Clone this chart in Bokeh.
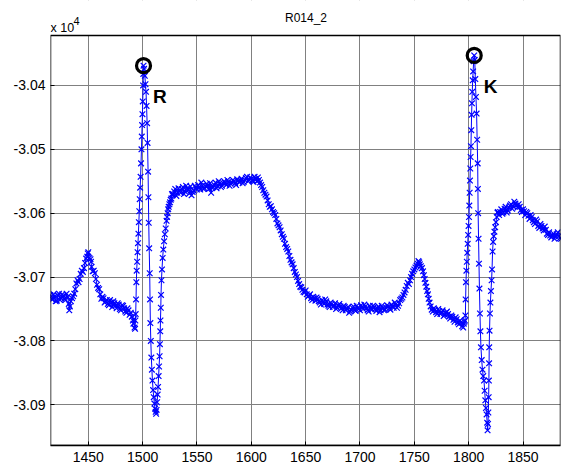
from bokeh.plotting import figure
from bokeh.models import FixedTicker, Range1d, ColumnDataSource, Label, BoxAnnotation
from bokeh.embed import file_html
from bokeh.resources import INLINE
from bokeh.core.properties import value

title_text = "R014_2"
exponent_base = "x 10"
exponent_power = "4"
x_ticks = [1450, 1500, 1550, 1600, 1650, 1700, 1750, 1800, 1850]
y_ticks = [-30900, -30800, -30700, -30600, -30500, -30400]
y_tick_labels = ["-3.09", "-3.08", "-3.07", "-3.06", "-3.05", "-3.04"]

baseline = [(1415, -30728), (1416, -30734), (1417, -30735), (1418, -30727), (1419, -30730),
            (1420, -30738), (1421, -30737), (1422, -30729), (1423, -30726), (1424, -30736),
            (1425, -30733), (1426, -30727), (1427, -30729), (1428, -30734), (1429, -30736),
            (1430, -30726), (1431, -30731), (1432, -30742), (1432.5, -30752), (1433, -30746),
            (1434, -30738), (1435, -30733), (1436, -30730), (1437, -30726)]
p_wave = [(1438, -30719), (1439, -30710), (1440, -30705), (1441, -30708), (1442, -30703),
          (1443, -30695), (1444, -30690), (1445, -30692), (1446, -30686), (1447, -30678),
          (1448, -30671), (1449, -30668), (1449.5, -30663), (1450, -30661), (1451, -30670),
          (1452, -30672), (1452.5, -30676), (1453, -30684), (1454, -30691), (1455, -30690),
          (1456, -30694), (1457, -30703), (1458, -30712), (1459, -30717), (1460, -30719),
          (1461, -30727), (1462, -30734), (1463, -30731), (1464, -30733), (1465, -30740)]
pr_segment = [(1466, -30738), (1467, -30736), (1468, -30742), (1469, -30744), (1470, -30736),
              (1471, -30740), (1472, -30747), (1473, -30738), (1474, -30741), (1475, -30745),
              (1476, -30749), (1477, -30741), (1478, -30743), (1479, -30750), (1480, -30752),
              (1481, -30744), (1482, -30745), (1483, -30749), (1484, -30754), (1485, -30756),
              (1486, -30749), (1487, -30752), (1488, -30759), (1489, -30756), (1490, -30762),
              (1491, -30768), (1491.5, -30773), (1492, -30766), (1492.5, -30779), (1493, -30781),
              (1493.3, -30768)]
r_complex = [(1493.6, -30758), (1493.9, -30735), (1494.2, -30708), (1494.5, -30690), (1494.9, -30676),
             (1495.3, -30661), (1495.7, -30647), (1496.1, -30632), (1496.5, -30614), (1496.9, -30597),
             (1497.3, -30578), (1497.7, -30560), (1498.1, -30543), (1498.5, -30522), (1498.9, -30500),
             (1499.2, -30480), (1499.5, -30462), (1499.8, -30445), (1500.1, -30425), (1500.4, -30400),
             (1500.6, -30382), (1500.8, -30369),
             (1501.3, -30374), (1502.0, -30385), (1502.6, -30398), (1503.1, -30410), (1503.6, -30432),
             (1504.1, -30459), (1504.5, -30490), (1505.0, -30535), (1505.3, -30575), (1505.6, -30615),
             (1506.0, -30655), (1506.5, -30694), (1506.8, -30735), (1507.1, -30772), (1507.5, -30800),
             (1508.0, -30826), (1508.5, -30845), (1509.0, -30862), (1509.6, -30877), (1510.2, -30888),
             (1510.8, -30898), (1511.4, -30906), (1512.0, -30911), (1512.4, -30914),
             (1512.8, -30908), (1513.3, -30896), (1513.8, -30884), (1514.2, -30872), (1514.7, -30855),
             (1515.1, -30840), (1515.6, -30824), (1515.9, -30805), (1516.2, -30785), (1516.4, -30768),
             (1516.7, -30748), (1516.9, -30728), (1517.3, -30705), (1517.8, -30688), (1518.4, -30670),
             (1519.0, -30657), (1519.7, -30644), (1520.4, -30633), (1521.2, -30624), (1522.0, -30612),
             (1522.5, -30606), (1523.0, -30600), (1523.5, -30594), (1524.0, -30590), (1524.6, -30586),
             (1525.2, -30583), (1525.8, -30579), (1526.4, -30577), (1527.0, -30570), (1527.6, -30572)]
st_plateau = [(1528, -30570), (1529, -30566), (1530, -30562), (1531, -30573), (1532, -30568),
              (1533, -30561), (1534, -30566), (1535, -30568), (1536, -30562), (1537, -30559),
              (1538, -30570), (1539, -30566), (1540, -30557), (1541, -30561), (1542, -30563),
              (1543, -30569), (1544, -30558), (1545, -30572), (1546, -30567), (1547, -30565),
              (1548, -30557), (1549, -30560), (1550, -30563), (1551, -30556), (1552, -30559),
              (1553, -30563), (1554, -30552), (1555, -30557), (1556, -30562), (1557, -30561),
              (1558, -30558), (1559, -30554), (1560, -30557), (1561, -30562), (1562, -30553),
              (1563, -30568), (1564, -30560), (1565, -30559), (1566, -30556), (1567, -30552),
              (1568, -30561), (1569, -30558), (1570, -30550), (1571, -30553), (1572, -30559),
              (1573, -30557), (1574, -30553), (1575, -30550), (1576, -30553), (1577, -30556),
              (1578, -30548), (1579, -30551), (1580, -30557), (1581, -30554), (1582, -30552),
              (1583, -30548), (1584, -30550), (1585, -30553), (1586, -30556), (1587, -30547),
              (1588, -30549), (1589, -30552), (1590, -30549), (1591, -30546), (1592, -30553),
              (1593, -30551), (1594, -30548), (1595, -30545), (1596, -30543), (1597, -30550),
              (1598, -30548), (1599, -30544), (1600, -30546), (1601, -30549), (1602, -30551),
              (1603, -30543), (1604, -30546), (1605, -30550), (1606, -30544), (1607, -30548),
              (1608, -30552)]
t_fall = [(1609, -30556), (1610, -30559), (1611, -30564), (1612, -30568), (1613, -30571),
          (1614, -30574), (1615, -30580), (1616, -30586), (1617, -30590), (1618, -30589),
          (1619, -30594), (1620, -30598), (1621, -30600), (1622, -30603), (1623, -30609),
          (1624, -30616), (1625, -30619), (1626, -30622), (1627, -30627), (1628, -30633),
          (1629, -30637), (1630, -30640), (1631, -30648), (1632, -30653), (1633, -30656),
          (1634, -30660), (1635, -30667), (1636, -30673), (1637, -30677), (1638, -30680),
          (1639, -30686), (1640, -30692), (1641, -30696), (1642, -30700), (1643, -30706),
          (1644, -30711), (1645, -30715), (1646, -30716), (1647, -30720), (1648, -30723),
          (1649, -30724), (1650, -30721), (1651, -30727), (1652, -30731), (1653, -30729),
          (1654, -30727), (1655, -30733), (1656, -30736), (1657, -30731), (1658, -30733),
          (1659, -30737), (1660, -30732), (1661, -30734), (1662, -30738), (1663, -30740),
          (1664, -30743), (1665, -30736), (1666, -30739), (1667, -30742), (1668, -30735),
          (1669, -30738), (1670, -30743), (1671, -30745), (1672, -30747), (1673, -30740),
          (1674, -30742), (1675, -30747), (1676, -30745), (1677, -30741), (1678, -30750),
          (1679, -30748), (1680, -30744), (1681, -30742), (1682, -30746), (1683, -30749),
          (1684, -30752), (1685, -30745), (1686, -30747), (1687, -30752), (1688, -30749),
          (1689, -30747), (1690, -30756), (1691, -30754), (1692, -30751), (1693, -30748),
          (1694, -30746), (1695, -30751), (1696, -30753), (1697, -30745), (1698, -30748),
          (1699, -30750), (1700, -30752), (1701, -30744), (1702, -30747), (1703, -30750),
          (1704, -30743), (1705, -30746), (1706, -30749), (1707, -30752), (1708, -30754),
          (1709, -30745), (1710, -30748), (1711, -30751), (1712, -30745), (1713, -30747),
          (1714, -30750), (1715, -30753), (1716, -30749), (1717, -30746), (1718, -30755),
          (1719, -30752), (1720, -30745), (1721, -30748), (1722, -30752), (1723, -30751),
          (1724, -30748), (1725, -30744), (1726, -30746), (1727, -30749), (1728, -30751),
          (1729, -30743), (1730, -30746), (1731, -30748), (1732, -30740), (1733, -30742),
          (1734, -30748), (1735, -30745), (1736, -30741)]
p_wave_2 = [(1737, -30736), (1738, -30734), (1739, -30732), (1740, -30728), (1741, -30724),
            (1742, -30720), (1743, -30714), (1744, -30709), (1745, -30711), (1746, -30705),
            (1747, -30700), (1748, -30695), (1749, -30691), (1750, -30688), (1751, -30685),
            (1752, -30682), (1753, -30679), (1753.8, -30675), (1754.5, -30677), (1755, -30680),
            (1756, -30683), (1757, -30686), (1758, -30691), (1758.8, -30697), (1759.5, -30703),
            (1760.2, -30709), (1761, -30715), (1761.8, -30722), (1762.5, -30727), (1763.2, -30734),
            (1764, -30740), (1765, -30746), (1766, -30751), (1767, -30754), (1768, -30749),
            (1769, -30751), (1770, -30755), (1771, -30758), (1772, -30750), (1773, -30753),
            (1774, -30758), (1775, -30756), (1776, -30752), (1777, -30761), (1778, -30759),
            (1779, -30756), (1780, -30754), (1781, -30758), (1782, -30762), (1783, -30765),
            (1784, -30760), (1785, -30762), (1786, -30767), (1787, -30770), (1788, -30763),
            (1789, -30766), (1790, -30771), (1791, -30774), (1792, -30768), (1793, -30771),
            (1794, -30777), (1795, -30779), (1795.5, -30773), (1796, -30770), (1796.6, -30768)]
k_complex = [(1797.0, -30760), (1797.2, -30735), (1797.5, -30708), (1797.9, -30690), (1798.3, -30676),
             (1798.7, -30662), (1799.1, -30648), (1799.5, -30634), (1799.9, -30620), (1800.3, -30606),
             (1800.6, -30588), (1800.9, -30568), (1801.2, -30549), (1801.5, -30530), (1801.8, -30512),
             (1802.1, -30495), (1802.4, -30470), (1802.7, -30446), (1803.0, -30428), (1803.3, -30410),
             (1803.7, -30392), (1804.1, -30378), (1804.6, -30362), (1805.1, -30353),
             (1805.6, -30360), (1806.1, -30390), (1806.7, -30418), (1807.3, -30444), (1807.8, -30485),
             (1808.3, -30522), (1808.5, -30562), (1808.7, -30600), (1809.1, -30640), (1809.5, -30679),
             (1809.9, -30718), (1810.4, -30757), (1810.8, -30785), (1811.3, -30810), (1812.0, -30830),
             (1812.7, -30845), (1813.4, -30855), (1814.1, -30862), (1814.7, -30878), (1815.3, -30893),
             (1815.9, -30905), (1816.5, -30915), (1817.0, -30928), (1817.4, -30940),
             (1817.8, -30930), (1818.1, -30912), (1818.4, -30888), (1818.6, -30862), (1818.8, -30835),
             (1818.9, -30810), (1819.2, -30784), (1819.6, -30757), (1820.0, -30740), (1820.5, -30722),
             (1821.1, -30705), (1821.5, -30688), (1822.0, -30660), (1822.5, -30645), (1823.1, -30636),
             (1823.7, -30629), (1824.4, -30622), (1825.1, -30614), (1825.8, -30606), (1826.5, -30599)]
k_plateau = [(1827, -30598), (1828, -30603), (1829, -30598), (1830, -30594), (1831, -30601),
             (1832, -30599), (1833, -30593), (1834, -30590), (1835, -30599), (1836, -30596),
             (1837, -30591), (1838, -30588), (1839, -30586), (1840, -30593), (1841, -30589),
             (1842, -30582), (1843, -30585), (1844, -30588), (1845, -30591), (1846, -30586),
             (1847, -30590), (1848, -30595), (1849, -30598), (1850, -30594), (1851, -30597),
             (1852, -30603), (1853, -30598), (1854, -30600), (1855, -30604), (1856, -30609),
             (1857, -30603), (1858, -30606), (1859, -30611), (1860, -30614), (1861, -30617),
             (1862, -30610), (1863, -30613), (1864, -30620), (1865, -30623), (1866, -30617),
             (1867, -30620), (1868, -30624), (1869, -30627), (1870, -30621), (1871, -30626),
             (1872, -30632), (1873, -30634), (1874, -30630), (1875, -30635), (1876, -30638),
             (1877, -30635), (1878, -30632), (1879, -30640), (1880, -30636), (1881, -30633),
             (1882, -30630), (1883, -30636), (1884, -30639), (1885, -30640), (1886, -30635)]

peak_x = [1500.8, 1805.1]
peak_y = [-30369, -30353]
peak_labels = ["R", "K"]

segments = [baseline, p_wave, pr_segment, r_complex, st_plateau, t_fall, p_wave_2, k_complex, k_plateau]
points = sorted(pt for seg in segments for pt in seg)
sig_x = [pt[0] for pt in points]
sig_y = [pt[1] for pt in points]

FONT = "Liberation Sans"

# axes box (data limits) and the strip above it used for the heading texts
X_MIN, X_MAX = 1415.2, 1884.5
Y_MIN, Y_MAX = -30963.7, -30321.8
W, H = 561, 468
LEFT, RIGHT, BOTTOM = 50, 1, 23
BOX_TOP = 35                      # pixel row of the top edge of the axes box
frame_h = H - BOTTOM
px_per_unit = (frame_h - BOX_TOP) / (Y_MAX - Y_MIN)
Y_TOP = Y_MIN + frame_h / px_per_unit
x_per_px = (X_MAX - X_MIN) / (W - LEFT - RIGHT)


def data_y(row):
    return Y_TOP - row / px_per_unit


def data_x(col):
    return X_MIN + (col - LEFT) * x_per_px


p = figure(width=W, height=H, output_backend="svg", toolbar_location=None, title=None,
           x_range=Range1d(X_MIN, X_MAX), y_range=Range1d(Y_MIN, Y_TOP),
           min_border_left=LEFT, min_border_right=RIGHT, min_border_top=0, min_border_bottom=BOTTOM)
p.background_fill_color = "white"
p.border_fill_color = "white"
p.outline_line_color = None

p.xgrid.ticker = FixedTicker(ticks=x_ticks)
p.ygrid.ticker = FixedTicker(ticks=y_ticks)
for g in (p.xgrid, p.ygrid):
    g.grid_line_color = "#808080"
    g.grid_line_width = 1

src = ColumnDataSource(dict(x=sig_x, y=sig_y))
p.line("x", "y", source=src, line_color="#0000ff", line_width=1)
p.scatter("x", "y", source=src, marker="x", size=8, line_color="#0000ff", line_width=1.2)

psrc = ColumnDataSource(dict(x=peak_x, y=peak_y, t=peak_labels))
p.scatter("x", "y", source=psrc, marker="circle", size=14, fill_color=None,
          line_color="black", line_width=3.2)
p.text("x", "y", text="t", source=psrc, x_offset=9.5, y_offset=31,
       text_font=value(FONT), text_font_size="19px", text_font_style="bold",
       text_color="black", text_baseline="alphabetic", text_align="left")

# white strip above the axes box, then the box itself
p.add_layout(BoxAnnotation(bottom=Y_MAX, fill_color="white", fill_alpha=1.0, line_color=None))
p.add_layout(BoxAnnotation(left=X_MIN, right=X_MAX, bottom=Y_MIN, top=Y_MAX,
                           fill_alpha=0.0, fill_color=None, line_color="black",
                           line_width=1.5, line_alpha=1.0))

for ax in (p.xaxis, p.yaxis):
    ax.major_tick_in = 4
    ax.major_tick_out = 0
    ax.minor_tick_line_color = None
    ax.major_tick_line_color = "black"
    ax.major_label_text_font = FONT
    ax.major_label_text_font_size = "14px"
    ax.major_label_text_color = "black"
p.xaxis.axis_line_color = "black"
p.xaxis.axis_line_width = 1.5
p.yaxis.axis_line_color = None

p.xaxis.ticker = FixedTicker(ticks=x_ticks)
p.yaxis.ticker = FixedTicker(ticks=y_ticks)
p.yaxis.major_label_overrides = {t: l for t, l in zip(y_ticks, y_tick_labels)}
p.xaxis.major_label_standoff = 6
p.yaxis.major_label_standoff = 5

p.add_layout(Label(x=data_x(305.5), y=data_y(17), text=title_text, text_font=FONT,
                   text_font_size="12px", text_align="center", text_baseline="alphabetic",
                   text_color="black"))
p.add_layout(Label(x=data_x(50), y=data_y(27.3), text=exponent_base, text_font=FONT,
                   text_font_size="12.5px", text_align="left", text_baseline="alphabetic",
                   text_color="black"))
p.add_layout(Label(x=data_x(73), y=data_y(20), text=exponent_power, text_font=FONT,
                   text_font_size="11px", text_align="left", text_baseline="alphabetic",
                   text_color="black"))

open("out.html", "w").write(file_html(p, INLINE))
